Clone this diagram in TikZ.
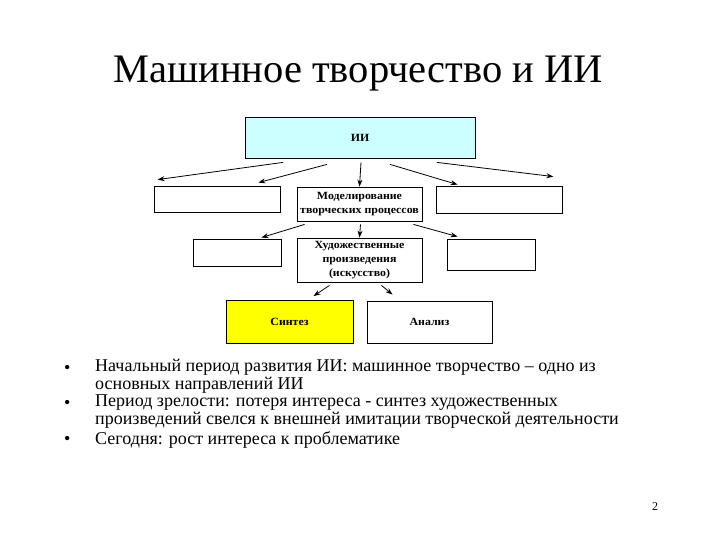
\documentclass[tikz,border=0pt]{standalone}
\usepackage{fontspec}
\setmainfont{Liberation Serif}
\newfontfamily\boxfont[FakeStretch=1.08]{Liberation Serif}
\usetikzlibrary{calc,arrows.meta}
\tikzset{
  box/.style={draw=black, line width=0.8pt, inner sep=0pt, align=center, font=\boxfont\fontsize{11}{14}\selectfont\bfseries},
  arr/.style={-{Stealth[length=7pt,width=5pt]}, line width=0.8pt},
  bul/.style={anchor=base west, inner sep=0pt, align=left, font=\fontsize{18}{16}\selectfont},
}
\begin{document}
\begin{tikzpicture}[x=1pt,y=-1pt]
\useasboundingbox (0,0) rectangle (720,540);
\node[anchor=base, font=\fontsize{40.5}{40.5}\selectfont] (title) at (358,83) {Машинное творчество и ИИ};
\node[box, fill={rgb,255:red,204;green,255;blue,255}, minimum width=230pt, minimum height=41pt] (ii) at (360,137.5) {ИИ};
\node[box, minimum width=126pt, minimum height=26pt] (b1L) at (217,199) {};
\node[box, minimum width=125pt, minimum height=34pt] (mod) at (359.5,204) {Моделирование\\творческих процессов};
\node[box, minimum width=126pt, minimum height=27pt] (b1R) at (499,199.5) {};
\node[box, minimum width=88pt, minimum height=27pt] (b2L) at (237,252.5) {};
\node[box, minimum width=125pt, minimum height=44pt] (art) at (359.5,260) {Художественные\\произведения\\(искусство)};
\node[box, minimum width=88pt, minimum height=31pt] (b2R) at (491,254.5) {};
\node[box, fill={rgb,255:red,255;green,255;blue,0}, minimum width=127pt, minimum height=43pt] (syn) at (289.5,322) {Синтез};
\node[box, minimum width=125pt, minimum height=42pt] (ana) at (429.5,322) {Анализ};
% arrows from ИИ
\draw[arr] ($(ii.south)+(-77,4)$) -- ($(b1L.north west)+(4,-6)$);
\draw[arr] ($(ii.south)+(-33,6)$) -- ($(b1L.north east)+(-22,-3)$);
\draw[arr] ($(ii.south)+(1,4)$) -- (mod.north);
\draw[arr] ($(ii.south)+(30,6)$) -- ($(b1R.north west)+(22,-1)$);
\draw[arr] ($(ii.south)+(77,4)$) -- ($(b1R.north east)+(-9,-9)$);
% arrows from Моделирование
\draw[arr] ($(mod.south west)+(8,3)$) -- ($(b2L.north east)+(-20,-1)$);
\draw[arr] ($(mod.south)+(1,3)$) -- (art.north);
\draw[arr] ($(mod.south east)+(-9,3)$) -- ($(b2R.north west)+(11,-2)$);
% arrows from art
\draw[arr] ($(art.south)+(-30,3)$) -- ($(syn.north)+(24,-4)$);
\draw[arr] ($(art.south)+(22,3)$) -- ($(ana.north)+(-37,-6)$);
% bullets
\node[bul] (d1) at (64,373) {•};
\node[bul] (t1) at (95,389) {Начальный период развития ИИ: машинное творчество – одно из\\основных направлений ИИ};
\node[bul] (d2) at (64,408) {•};
\node[bul] (t2) at (95,424) {Период зрелости: потеря интереса - синтез художественных\\произведений свелся к внешней имитации творческой деятельности};
\node[bul] (d3) at (64,444) {•};
\node[bul] (t3) at (95,444) {Сегодня: рост интереса к проблематике};
\node[anchor=base, font=\fontsize{12}{12}\selectfont] (pg) at (655,510) {2};
\end{tikzpicture}
\end{document}
